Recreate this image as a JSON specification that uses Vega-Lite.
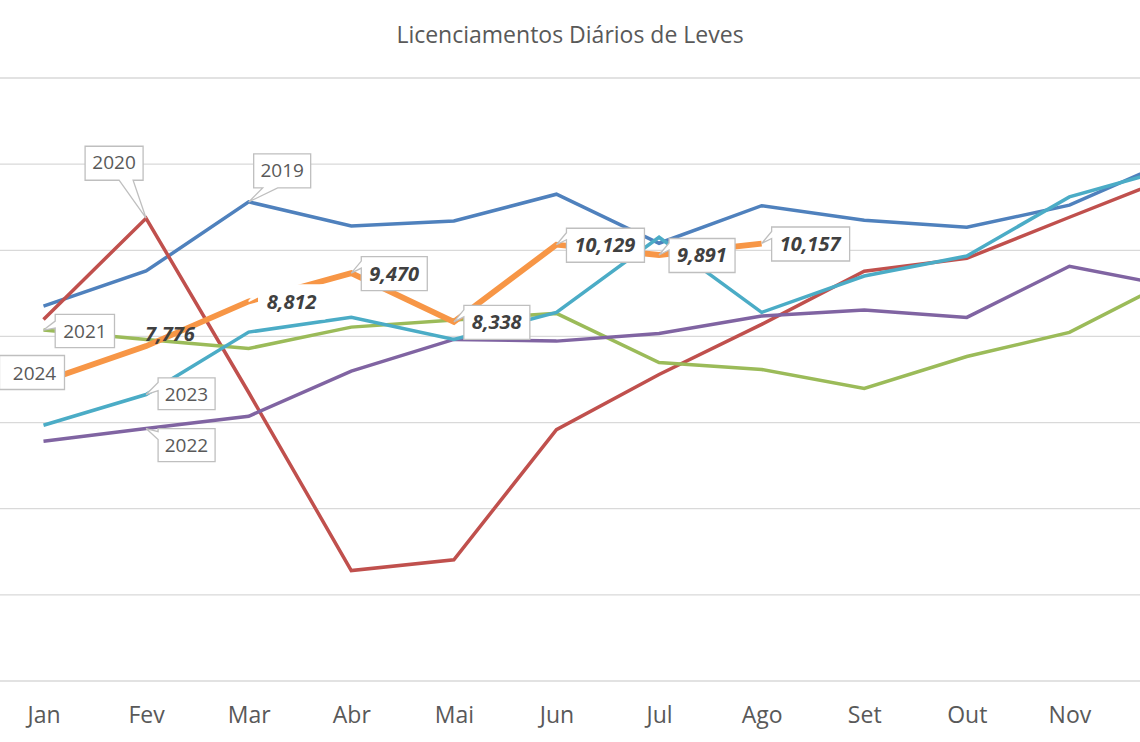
{
  "$schema": "https://vega.github.io/schema/vega-lite/v6.json",
  "width": 1140,
  "height": 603,
  "autosize": {"type": "none"},
  "padding": {"left": 0, "top": 78, "right": 0, "bottom": 61},
  "background": "white",
  "title": {
    "text": "Licenciamentos Diários de Leves",
    "font": "Open Sans",
    "fontSize": 23,
    "fontWeight": "normal",
    "color": "#595959",
    "anchor": "middle",
    "baseline": "alphabetic",
    "offset": 11
  },
  "config": {"view": {"stroke": null}, "font": "Open Sans"},
  "data": {
    "values": [
      {"ano": "2019", "mes": "Jan", "valor": 8705},
      {"ano": "2019", "mes": "Fev", "valor": 9519},
      {"ano": "2019", "mes": "Mar", "valor": 11123},
      {"ano": "2019", "mes": "Abr", "valor": 10565},
      {"ano": "2019", "mes": "Mai", "valor": 10681},
      {"ano": "2019", "mes": "Jun", "valor": 11302},
      {"ano": "2019", "mes": "Jul", "valor": 10163},
      {"ano": "2019", "mes": "Ago", "valor": 11035},
      {"ano": "2019", "mes": "Set", "valor": 10698},
      {"ano": "2019", "mes": "Out", "valor": 10535},
      {"ano": "2019", "mes": "Nov", "valor": 11047},
      {"ano": "2019", "mes": "Dez", "valor": 12093},
      {"ano": "2020", "mes": "Jan", "valor": 8395},
      {"ano": "2020", "mes": "Fev", "valor": 10744},
      {"ano": "2020", "mes": "Mar", "valor": 6698},
      {"ano": "2020", "mes": "Abr", "valor": 2565},
      {"ano": "2020", "mes": "Mai", "valor": 2814},
      {"ano": "2020", "mes": "Jun", "valor": 5837},
      {"ano": "2020", "mes": "Jul", "valor": 7116},
      {"ano": "2020", "mes": "Ago", "valor": 8279},
      {"ano": "2020", "mes": "Set", "valor": 9512},
      {"ano": "2020", "mes": "Out", "valor": 9814},
      {"ano": "2020", "mes": "Nov", "valor": 10767},
      {"ano": "2020", "mes": "Dez", "valor": 11707},
      {"ano": "2021", "mes": "Jan", "valor": 8147},
      {"ano": "2021", "mes": "Fev", "valor": 7930},
      {"ano": "2021", "mes": "Mar", "valor": 7721},
      {"ano": "2021", "mes": "Abr", "valor": 8216},
      {"ano": "2021", "mes": "Mai", "valor": 8379},
      {"ano": "2021", "mes": "Jun", "valor": 8535},
      {"ano": "2021", "mes": "Jul", "valor": 7395},
      {"ano": "2021", "mes": "Ago", "valor": 7233},
      {"ano": "2021", "mes": "Set", "valor": 6791},
      {"ano": "2021", "mes": "Out", "valor": 7535},
      {"ano": "2021", "mes": "Nov", "valor": 8093},
      {"ano": "2021", "mes": "Dez", "valor": 9312},
      {"ano": "2022", "mes": "Jan", "valor": 5565},
      {"ano": "2022", "mes": "Fev", "valor": 5861},
      {"ano": "2022", "mes": "Mar", "valor": 6147},
      {"ano": "2022", "mes": "Abr", "valor": 7193},
      {"ano": "2022", "mes": "Mai", "valor": 7930},
      {"ano": "2022", "mes": "Jun", "valor": 7891},
      {"ano": "2022", "mes": "Jul", "valor": 8070},
      {"ano": "2022", "mes": "Ago", "valor": 8472},
      {"ano": "2022", "mes": "Set", "valor": 8612},
      {"ano": "2022", "mes": "Out", "valor": 8442},
      {"ano": "2022", "mes": "Nov", "valor": 9628},
      {"ano": "2022", "mes": "Dez", "valor": 9163},
      {"ano": "2023", "mes": "Jan", "valor": 5937},
      {"ano": "2023", "mes": "Fev", "valor": 6651},
      {"ano": "2023", "mes": "Mar", "valor": 8100},
      {"ano": "2023", "mes": "Abr", "valor": 8442},
      {"ano": "2023", "mes": "Mai", "valor": 7930},
      {"ano": "2023", "mes": "Jun", "valor": 8558},
      {"ano": "2023", "mes": "Jul", "valor": 10302},
      {"ano": "2023", "mes": "Ago", "valor": 8558},
      {"ano": "2023", "mes": "Set", "valor": 9402},
      {"ano": "2023", "mes": "Out", "valor": 9868},
      {"ano": "2023", "mes": "Nov", "valor": 11240},
      {"ano": "2023", "mes": "Dez", "valor": 11907},
      {"ano": "2024", "mes": "Jan", "valor": 6953},
      {"ano": "2024", "mes": "Fev", "valor": 7776},
      {"ano": "2024", "mes": "Mar", "valor": 8812},
      {"ano": "2024", "mes": "Abr", "valor": 9470},
      {"ano": "2024", "mes": "Mai", "valor": 8338},
      {"ano": "2024", "mes": "Jun", "valor": 10129},
      {"ano": "2024", "mes": "Jul", "valor": 9891},
      {"ano": "2024", "mes": "Ago", "valor": 10157}
    ]
  },
  "layer": [
    {
      "data": {"values": [{"grade": 0}, {"grade": 2000}, {"grade": 4000}, {"grade": 6000}, {"grade": 8000}, {"grade": 10000}, {"grade": 12000}, {"grade": 14000}]},
      "mark": {"type": "rule", "color": "#d9d9d9", "strokeWidth": 1.3},
      "encoding": {
        "y": {"field": "grade", "type": "quantitative", "scale": {"domain": [0, 14000], "nice": false}, "axis": null}
      }
    },
    {
      "encoding": {
        "x": {
          "field": "mes",
          "type": "ordinal",
          "sort": ["Jan", "Fev", "Mar", "Abr", "Mai", "Jun", "Jul", "Ago", "Set", "Out", "Nov", "Dez"],
          "scale": {
            "type": "point",
            "domain": ["Jan", "Fev", "Mar", "Abr", "Mai", "Jun", "Jul", "Ago", "Set", "Out", "Nov", "Dez"],
            "range": [43.5, 1172],
            "padding": 0
          },
          "axis": {
            "title": null,
            "domain": false,
            "ticks": false,
            "tickSize": 0,
            "grid": false,
            "labelAngle": 0,
            "labelFont": "Open Sans",
            "labelFontSize": 23,
            "labelColor": "#595959",
            "labelPadding": 41,
            "labelBaseline": "alphabetic",
            "labelExpr": "datum.label == 'Dez' ? '' : datum.label"
          }
        },
        "y": {
          "field": "valor",
          "type": "quantitative",
          "scale": {"domain": [0, 14000], "nice": false},
          "axis": null
        }
      },
      "layer": [
        {
          "transform": [{"filter": "datum.ano != '2024'"}],
          "mark": {"type": "line", "strokeWidth": 3.5, "clip": true},
          "encoding": {
            "color": {
              "field": "ano",
              "type": "nominal",
              "scale": {
                "domain": ["2019", "2020", "2021", "2022", "2023", "2024"],
                "range": ["#4F81BD", "#C0504D", "#9BBB59", "#8064A2", "#4BACC6", "#F79646"]
              },
              "legend": null
            }
          }
        },
        {
          "transform": [{"filter": "datum.ano == '2024'"}],
          "mark": {"type": "line", "strokeWidth": 5.8, "clip": true, "color": "#F79646"},
          "encoding": {}
        },
        {
          "transform": [{"filter": "datum.ano == '2024' && indexof(['Mar','Abr','Mai','Jun','Jul','Ago'], datum.mes) >= 0"}],
          "mark": {"type": "point", "filled": true, "fill": "white", "size": 4, "strokeWidth": 1.3, "opacity": 1, "fillOpacity": 1, "strokeOpacity": 1},
          "encoding": {
            "shape": {
              "condition": {"test": "datum.valor >= 10000", "value": "M10,-16.5H88V17.5H10V-5L0,0L10,-12Z"},
              "value": "M10,-16.5H76V17.5H10V-5L0,0L10,-12Z"
            },
            "stroke": {
              "condition": {"test": "datum.mes == 'Mar'", "value": "white"},
              "value": "#bfbfbf"
            }
          }
        },
        {
          "transform": [{"filter": "datum.ano == '2024' && indexof(['Mar','Abr','Mai','Jun','Jul','Ago'], datum.mes) >= 0"}],
          "mark": {"type": "text", "align": "left", "baseline": "middle", "dx": 18, "dy": 1.5, "font": "Open Sans", "fontSize": 20, "fontWeight": "bold", "fontStyle": "italic", "color": "#404040"},
          "encoding": {"text": {"field": "valor", "type": "quantitative", "format": ","}}
        },
        {
          "transform": [{"filter": "datum.ano == '2024' && datum.mes == 'Fev'"}],
          "mark": {"type": "text", "align": "left", "baseline": "middle", "dx": -1, "dy": -11, "font": "Open Sans", "fontSize": 20, "fontWeight": "bold", "fontStyle": "italic", "color": "#404040"},
          "encoding": {"text": {"field": "valor", "type": "quantitative", "format": ","}}
        },
        {
          "transform": [{"filter": "(datum.ano=='2019'&&datum.mes=='Mar')||(datum.ano=='2020'&&datum.mes=='Fev')||(datum.ano=='2021'&&datum.mes=='Jan')||(datum.ano=='2022'&&datum.mes=='Fev')||(datum.ano=='2023'&&datum.mes=='Fev')||(datum.ano=='2024'&&datum.mes=='Jan')"}],
          "mark": {"type": "point", "filled": true, "fill": "white", "stroke": "#bfbfbf", "size": 4, "strokeWidth": 1.3, "opacity": 1, "fillOpacity": 1, "strokeOpacity": 1},
          "encoding": {
            "shape": {
              "field": "ano",
              "type": "nominal",
              "scale": {
                "domain": ["2019", "2020", "2021", "2022", "2023", "2024"],
                "range": [
                  "M5,-48H62V-14H29L0,0L14,-14H5Z",
                  "M-61,-72H-3V-38H-13L0,0L-27,-38H-61Z",
                  "M11.7,-15.7H71V17.6H11.7V-2L0,0L11.7,-9Z",
                  "M12,0H69V33H12V11L0,0L12,3Z",
                  "M12,-16.7H69V15H12V-4L0,0L12,-12Z",
                  "M-44,-26H21V8H-44Z"
                ]
              },
              "legend": null
            }
          }
        },
        {
          "transform": [{"filter": "datum.ano=='2019'&&datum.mes=='Mar'"}],
          "mark": {"type": "text", "align": "center", "baseline": "middle", "dx": 33.5, "dy": -31, "font": "Open Sans", "fontSize": 19, "color": "#595959"},
          "encoding": {"text": {"field": "ano"}}
        },
        {
          "transform": [{"filter": "datum.ano=='2020'&&datum.mes=='Fev'"}],
          "mark": {"type": "text", "align": "center", "baseline": "middle", "dx": -32, "dy": -55, "font": "Open Sans", "fontSize": 19, "color": "#595959"},
          "encoding": {"text": {"field": "ano"}}
        },
        {
          "transform": [{"filter": "datum.ano=='2021'&&datum.mes=='Jan'"}],
          "mark": {"type": "text", "align": "center", "baseline": "middle", "dx": 41.4, "dy": 2, "font": "Open Sans", "fontSize": 19, "color": "#595959"},
          "encoding": {"text": {"field": "ano"}}
        },
        {
          "transform": [{"filter": "datum.ano=='2022'&&datum.mes=='Fev'"}],
          "mark": {"type": "text", "align": "center", "baseline": "middle", "dx": 40.3, "dy": 17, "font": "Open Sans", "fontSize": 19, "color": "#595959"},
          "encoding": {"text": {"field": "ano"}}
        },
        {
          "transform": [{"filter": "datum.ano=='2023'&&datum.mes=='Fev'"}],
          "mark": {"type": "text", "align": "center", "baseline": "middle", "dx": 40.3, "dy": 0, "font": "Open Sans", "fontSize": 19, "color": "#595959"},
          "encoding": {"text": {"field": "ano"}}
        },
        {
          "transform": [{"filter": "datum.ano=='2024'&&datum.mes=='Jan'"}],
          "mark": {"type": "text", "align": "center", "baseline": "middle", "dx": -9, "dy": -8, "font": "Open Sans", "fontSize": 19, "color": "#595959"},
          "encoding": {"text": {"field": "ano"}}
        }
      ]
    }
  ]
}
